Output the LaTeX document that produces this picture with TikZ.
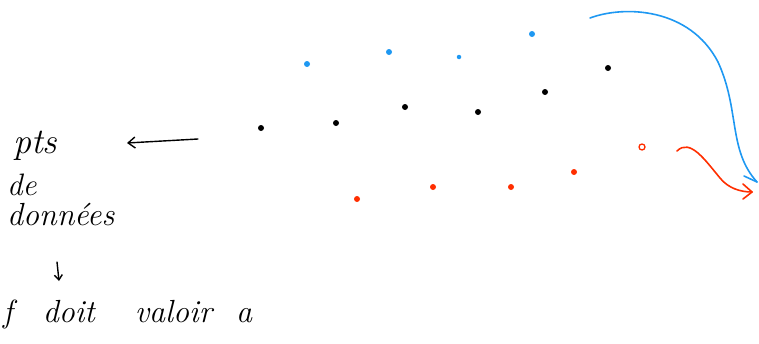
\documentclass[tikz,border=0pt]{standalone}
\usepackage{fontspec}
\usepackage{xcolor}
\usepackage{tikz}
\usetikzlibrary{arrows.meta}
\definecolor{penblue}{HTML}{1E98F2}
\definecolor{penred}{HTML}{FF2E00}

\begin{document}
\begin{tikzpicture}[
    x=1pt, y=-1pt,
    dot/.style={circle, fill, inner sep=0pt, minimum size=6pt},
    hand/.style={inner sep=0pt, anchor=west},
    pen/.style={line width=1.6pt, line cap=round, line join=round}
]
\useasboundingbox (0,0) rectangle (759,343);
% points above
\node[dot, penblue] (b1) at (307,64) {};
\node[dot, penblue] (b2) at (389,52) {};
\node[dot, penblue, minimum size=4.5pt] (b3) at (459,57) {};
\node[dot, penblue] (b4) at (532,34) {};
% data points
\node[dot] (p1) at (261,128) {};
\node[dot] (p2) at (336,123) {};
\node[dot] (p3) at (405,107) {};
\node[dot] (p4) at (478,112) {};
\node[dot] (p5) at (545,92) {};
\node[dot] (p6) at (608,68) {};
% points below
\node[dot, penred] (r1) at (357,199) {};
\node[dot, penred] (r2) at (433,187) {};
\node[dot, penred] (r3) at (511,187) {};
\node[dot, penred] (r4) at (574,172) {};
\node[circle, draw=penred, line width=1.3pt, inner sep=0pt,
      minimum width=4.5pt, minimum height=6pt] (r5) at (642,147) {};
% text
\node[hand, font=\itshape\fontsize{36}{40}\selectfont] (pts) at (13,146) {pts};
\node[hand, font=\itshape\fontsize{31}{34}\selectfont] (de) at (7,185) {de};
\node[hand, font=\itshape\fontsize{32}{36}\selectfont] (donnees) at (7,215) {données};
\node[hand, font=\itshape\fontsize{32}{36}\selectfont] (fval) at (3,314)
     {f\hspace{30pt}doit\hspace{40pt}valoir\hspace{24pt}a};
% arrows
\coordinate (lstart) at (198,139);
\coordinate (lend) at (127,143);
\draw[pen, line width=1.4pt, -{Straight Barb[length=7pt,width=11pt]}] (lstart) -- (lend);
\coordinate (dstart) at (57,262);
\coordinate (dend) at (59,281);
\draw[pen, line width=1.4pt, -{Straight Barb[length=5pt,width=8pt]}] (dstart) -- (dend);
\coordinate (bstart) at (590,18);
\coordinate (bend) at (757,182);
\draw[pen, penblue] (bstart) .. controls (625,5) and (690,8) .. (718,62)
     .. controls (740,110) and (728,150) .. (bend);
\draw[pen, penblue] (744,176) -- (bend);
\coordinate (rstart) at (677,151);
\coordinate (rend) at (752,192);
\draw[pen, penred] (rstart) .. controls (690,138) and (705,160) .. (720,178)
     .. controls (728,188) and (740,192) .. (rend);
\draw[pen, penred] (743,184) -- (rend) -- (743,199);
\end{tikzpicture}
\end{document}
